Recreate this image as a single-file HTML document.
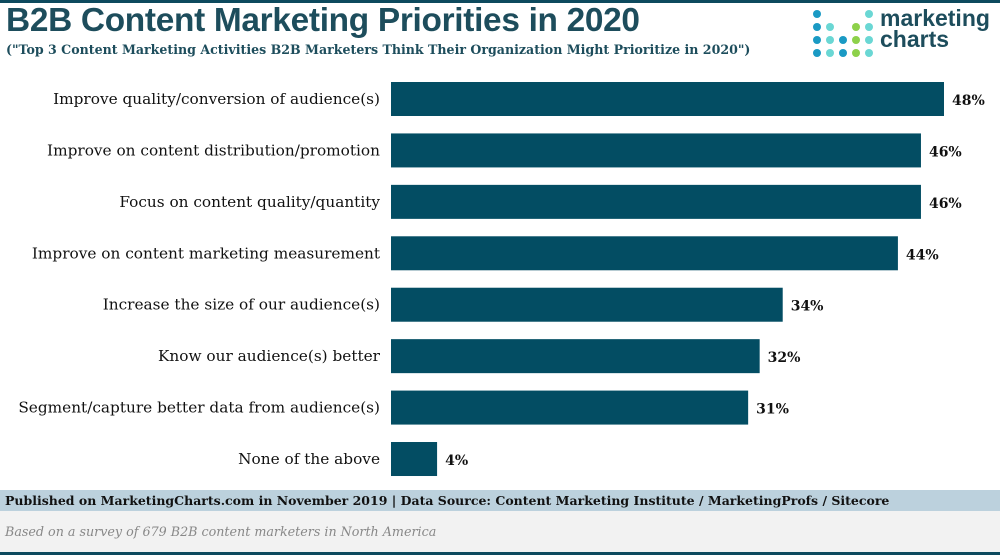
<!DOCTYPE html>
<html><head><meta charset="utf-8"><style>
body{margin:0;width:1000px;height:555px;background:#fff;position:relative;overflow:hidden;font-family:"DejaVu Serif",serif}
#topbar{position:absolute;left:0;top:0;width:1000px;height:3px;background:#0d4a5e}
#title{position:absolute;left:6px;top:2px;font:bold 33.4px "Liberation Sans",sans-serif;color:#1d4d5c;letter-spacing:-0.3px}
#subtitle{position:absolute;left:6px;top:42px;font:bold 12.6px "DejaVu Serif",serif;color:#1d4d5c;white-space:nowrap}
#logo-text{position:absolute;left:880px;top:8px;font:bold 23px/21px "Liberation Sans",sans-serif;color:#1d4d5c}
#footer1{position:absolute;left:0;top:490px;width:1000px;height:21px;background:#bcd1dd;font:bold 12.5px/21px "DejaVu Serif",serif;color:#111;padding-left:5px;box-sizing:border-box;white-space:nowrap}
#footer2{position:absolute;left:0;top:511px;width:1000px;height:41px;background:#f2f2f2;font:italic 12.7px/41px "DejaVu Serif",serif;color:#888;padding-left:5px;box-sizing:border-box}
#botbar{position:absolute;left:0;top:552px;width:1000px;height:3px;background:#0d4a5e}
</style></head><body>
<div id="topbar"></div>
<div id="title">B2B Content Marketing Priorities in 2020</div>
<div id="subtitle">("Top 3 Content Marketing Activities B2B Marketers Think Their Organization Might Prioritize in 2020")</div>
<svg style="position:absolute;left:810px;top:8px" width="66" height="52">
<g fill="#1a9ac4"><circle cx="7" cy="6" r="4"/><circle cx="7" cy="19" r="4"/><circle cx="7" cy="32" r="4"/><circle cx="7" cy="45" r="4"/><circle cx="33" cy="32" r="4"/><circle cx="33" cy="45" r="4"/></g>
<g fill="#6ad7d4"><circle cx="20" cy="19" r="4"/><circle cx="20" cy="32" r="4"/><circle cx="20" cy="45" r="4"/><circle cx="59" cy="6" r="4"/><circle cx="59" cy="19" r="4"/><circle cx="59" cy="32" r="4"/><circle cx="59" cy="45" r="4"/></g>
<g fill="#8dd14a"><circle cx="46" cy="19" r="4"/><circle cx="46" cy="32" r="4"/><circle cx="46" cy="45" r="4"/></g>
</svg>
<div id="logo-text">marketing<br>charts</div>
<svg id="chart" style="position:absolute;left:0;top:0" width="1000" height="490"></svg>
<div id="footer1">Published on MarketingCharts.com in November 2019 | Data Source: Content Marketing Institute / MarketingProfs / Sitecore</div>
<div id="footer2">Based on a survey of 679 B2B content marketers in North America</div>
<div id="botbar"></div>
<script>
const categories=["Improve quality/conversion of audience(s)","Improve on content distribution/promotion","Focus on content quality/quantity","Improve on content marketing measurement","Increase the size of our audience(s)","Know our audience(s) better","Segment/capture better data from audience(s)","None of the above"];
const values=[48,46,46,44,34,32,31,4];
const svg=document.getElementById('chart');const NS='http://www.w3.org/2000/svg';
const x0=391,pxPer=553/48,y0=99,step=51.43,bh=34;
const xs=v=>x0+v*pxPer;const yc=i=>y0+i*step;
categories.forEach((c,i)=>{
 const r=document.createElementNS(NS,'rect');
 r.setAttribute('x',x0);r.setAttribute('y',yc(i)-bh/2);r.setAttribute('width',xs(values[i])-x0);r.setAttribute('height',bh);r.setAttribute('fill','#034d63');
 
 
 svg.appendChild(r);
 const t=document.createElementNS(NS,'text');
 t.setAttribute('x',380);t.setAttribute('y',yc(i)+5);t.setAttribute('text-anchor','end');t.setAttribute('font-family','DejaVu Serif, serif');t.setAttribute('font-size','15.3');t.setAttribute('fill','#111');t.textContent=c;
 
 
 svg.appendChild(t);
 const v=document.createElementNS(NS,'text');
 v.setAttribute('x',xs(values[i])+8);v.setAttribute('y',yc(i)+6);v.setAttribute('font-family','DejaVu Serif, serif');v.setAttribute('font-weight','bold');v.setAttribute('font-size','14');v.setAttribute('fill','#111');v.textContent=values[i]+'%';
 
 
 svg.appendChild(v);
});
</script>
</body></html>
